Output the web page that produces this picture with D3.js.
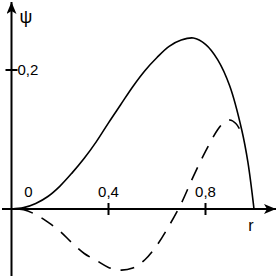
<!DOCTYPE html>
<html>
<head>
<meta charset="utf-8">
<script src="https://cdn.jsdelivr.net/npm/d3@7"></script>
<style>
  body { margin: 0; background: #fff; }
  svg { display: block; }
  text { font-family: "Liberation Sans", Arial, sans-serif; font-size: 15px; fill: #000; }
</style>
</head>
<body>
<svg></svg>
<script>
// r values and psi values for both curves
let rSolid = [0, 0.05, 0.1, 0.15, 0.2, 0.25, 0.3, 0.35, 0.4, 0.45, 0.5, 0.55, 0.6, 0.65, 0.7, 0.75, 0.8, 0.85, 0.9, 0.95, 0.975, 1.0];
let psiSolid = [0, 0.002, 0.008, 0.018, 0.033, 0.052, 0.073, 0.097, 0.124, 0.150, 0.176, 0.199, 0.218, 0.234, 0.243, 0.246, 0.237, 0.215, 0.177, 0.113, 0.067, 0];

let rDashed = [0, 0.05, 0.1, 0.15, 0.2, 0.25, 0.3, 0.35, 0.4, 0.45, 0.5, 0.55, 0.6, 0.65, 0.7, 0.75, 0.8, 0.85, 0.875, 0.9, 0.925, 0.95];
let psiDashed = [0, -0.001, -0.008, -0.019, -0.032, -0.049, -0.064, -0.074, -0.084, -0.088, -0.085, -0.073, -0.052, -0.024, 0.008, 0.047, 0.083, 0.114, 0.124, 0.128, 0.123, 0.109];

let xTicks = [0.4, 0.8];
let xTickLabels = ["0,4", "0,8"];
let yTicks = [0.2];
let yTickLabels = ["0,2"];

let drawChart = function() {
	const width = 278;
	const height = 278;

	let svg = d3.select("svg")
		.attr("width", width)
		.attr("height", height);

	let xScale = d3.scaleLinear().domain([0, 1]).range([11.5, 254]);
	let yScale = d3.scaleLinear().domain([0, 0.2]).range([209, 70]);

	let x0 = xScale(0), y0 = yScale(0);

	// arrow head
	svg.append("defs").append("marker")
		.attr("id", "arrow")
		.attr("viewBox", "0 0 12 10")
		.attr("refX", 12).attr("refY", 5)
		.attr("markerWidth", 12).attr("markerHeight", 10)
		.attr("markerUnits", "userSpaceOnUse")
		.attr("orient", "auto")
		.append("path")
			.attr("d", "M0,0 L12,5 L0,10 L3,5 Z")
			.attr("fill", "#000");

	// axes
	svg.append("line")
		.attr("x1", 2).attr("y1", y0)
		.attr("x2", 276).attr("y2", y0)
		.attr("stroke", "#000").attr("stroke-width", 2)
		.attr("marker-end", "url(#arrow)");

	svg.append("line")
		.attr("x1", x0).attr("y1", 276)
		.attr("x2", x0).attr("y2", 2)
		.attr("stroke", "#000").attr("stroke-width", 2)
		.attr("marker-end", "url(#arrow)");

	// ticks
	svg.selectAll(".xtick")
		.data(xTicks)
		.enter()
		.append("line")
			.attr("x1", d => xScale(d)).attr("x2", d => xScale(d))
			.attr("y1", y0 - 6).attr("y2", y0 + 6)
			.attr("stroke", "#000").attr("stroke-width", 2);

	svg.selectAll(".xlabel")
		.data(xTicks)
		.enter()
		.append("text")
			.attr("x", d => xScale(d))
			.attr("y", y0 - 12)
			.attr("text-anchor", "middle")
			.text((d, i) => xTickLabels[i]);

	svg.selectAll(".ytick")
		.data(yTicks)
		.enter()
		.append("line")
			.attr("x1", x0 - 6).attr("x2", x0 + 6)
			.attr("y1", d => yScale(d)).attr("y2", d => yScale(d))
			.attr("stroke", "#000").attr("stroke-width", 2);

	svg.selectAll(".ylabel")
		.data(yTicks)
		.enter()
		.append("text")
			.attr("x", x0 + 6)
			.attr("y", d => yScale(d) + 5)
			.text((d, i) => yTickLabels[i]);

	svg.append("text")
		.attr("x", x0 + 17).attr("y", y0 - 12)
		.attr("text-anchor", "middle")
		.text("0");

	// axis titles
	svg.append("text")
		.attr("x", 26).attr("y", 23)
		.attr("text-anchor", "middle")
		.style("font-size", "18px")
		.text("ψ");

	svg.append("text")
		.attr("x", 251).attr("y", 231)
		.attr("text-anchor", "middle")
		.style("font-size", "16px")
		.text("r");

	// curves
	let line = d3.line()
		.x(d => xScale(d[0]))
		.y(d => yScale(d[1]))
		.curve(d3.curveCatmullRom.alpha(0.5));

	svg.append("path")
		.datum(rSolid.map((r, i) => [r, psiSolid[i]]))
		.attr("d", line)
		.attr("fill", "none")
		.attr("stroke", "#000")
		.attr("stroke-width", 1.6);

	svg.append("path")
		.datum(rDashed.map((r, i) => [r, psiDashed[i]]))
		.attr("d", line)
		.attr("fill", "none")
		.attr("stroke", "#000")
		.attr("stroke-width", 1.6)
		.attr("stroke-dasharray", "14,10")
		.attr("stroke-dashoffset", -8);
}

drawChart();
</script>
</body>
</html>
